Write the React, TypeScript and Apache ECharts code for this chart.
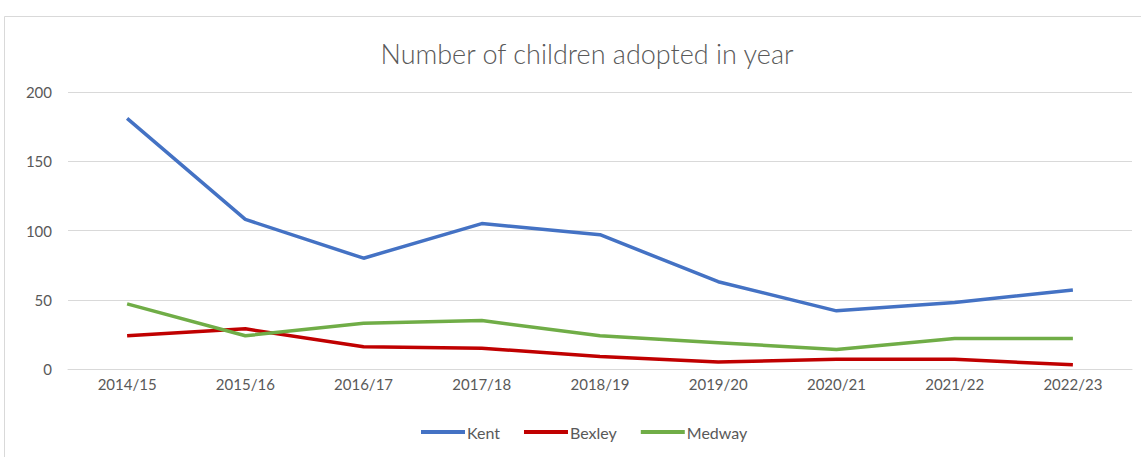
import React, { useEffect, useRef } from "react";
import * as echarts from "echarts";

const categories = ["2014/15", "2015/16", "2016/17", "2017/18", "2018/19", "2019/20", "2020/21", "2021/22", "2022/23"];
const kent = [181, 108, 80, 105, 97, 63, 42, 48, 57];
const bexley = [24, 29, 16, 15, 9, 5, 7, 7, 3];
const medway = [47, 24, 33, 35, 24, 19, 14, 22, 22];
const yTicks = { min: 0, max: 200, interval: 50 };

const FONT = "Lato, 'Open Sans', sans-serif";
const TXT = "#595959";

export default function App() {
  const ref = useRef<HTMLDivElement>(null);
  useEffect(() => {
    const chart = echarts.init(ref.current!, null, { renderer: "svg" });
    const mk = (name: string, data: number[], color: string) => ({
      name,
      type: "line",
      data,
      symbol: "none",
      lineStyle: { width: 3.5, color },
      itemStyle: { color },
    });
    chart.setOption({
      animation: false,
      backgroundColor: "#ffffff",
      textStyle: { fontFamily: FONT },
      title: {
        text: "Number of children adopted in year",
        left: 582,
        textAlign: "center",
        top: 35,
        textStyle: { fontFamily: FONT, fontSize: 27, fontWeight: 300, color: TXT },
      },
      graphic: [
        {
          type: "rect",
          shape: { x: 4.5, y: 16.5, width: 1200, height: 500 },
          style: { fill: "none", stroke: "#d9d9d9", lineWidth: 1 },
          silent: true,
        },
      ],
      legend: {
        bottom: 12,
        left: 416,
        itemWidth: 44,
        itemHeight: 4,
        itemGap: 24,
        icon: "rect",
        textStyle: { fontFamily: FONT, fontSize: 16, color: TXT, padding: [0, 0, 0, -3] },
        data: ["Kent", "Bexley", "Medway"],
      },
      grid: { left: 68, right: 9, top: 92, bottom: 88, containLabel: false },
      xAxis: {
        type: "category",
        data: categories,
        boundaryGap: true,
        axisLine: { show: true, lineStyle: { color: "#d9d9d9" } },
        axisTick: { show: false },
        axisLabel: { color: TXT, fontSize: 15, fontFamily: FONT, margin: 7 },
      },
      yAxis: {
        type: "value",
        min: yTicks.min,
        max: yTicks.max,
        interval: yTicks.interval,
        axisLine: { show: false },
        axisTick: { show: false },
        axisLabel: { color: TXT, fontSize: 15, fontFamily: FONT, margin: 16 },
        splitLine: { lineStyle: { color: "#d9d9d9", width: 1 } },
      },
      series: [mk("Kent", kent, "#4472C4"), mk("Bexley", bexley, "#C00000"), mk("Medway", medway, "#70AD47")],
    });
    return () => chart.dispose();
  }, []);
  return <div ref={ref} style={{ position: "fixed", left: 0, top: 0, width: 1141, height: 457 }} />;
}
